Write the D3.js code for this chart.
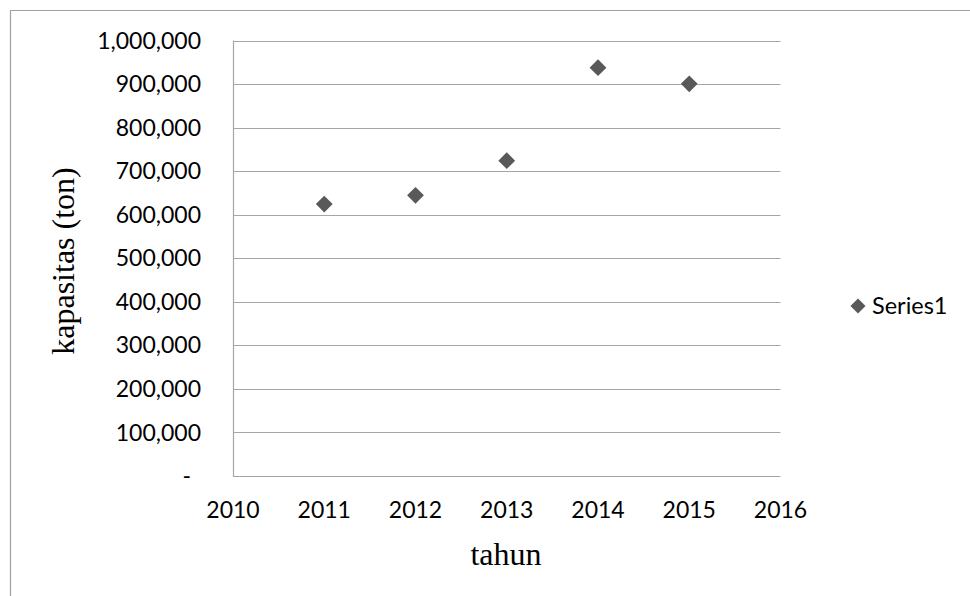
<!DOCTYPE html>
<html><head><meta charset="utf-8">
<script src="https://cdn.jsdelivr.net/npm/d3@7"></script>
<style>body{margin:0;background:#fff}svg{display:block}</style>
</head><body>
<svg id="c" width="970" height="596"></svg>
<script>
const years = [2011, 2012, 2013, 2014, 2015];
const capacity = [624500, 644500, 724000, 937500, 900500];
const yTicks = [0,100000,200000,300000,400000,500000,600000,700000,800000,900000,1000000];
const xTicks = [2010,2011,2012,2013,2014,2015,2016];
const seriesName = "Series1";

const svg = d3.select("#c");
const x = d3.scaleLinear().domain([2010,2016]).range([233,780.5]);
const y = d3.scaleLinear().domain([0,1000000]).range([476,40.5]);
const labFont = "Lato, 'Open Sans', sans-serif";
const serif = "'Liberation Serif', 'Times New Roman', serif";

// outer border
svg.append("path").attr("d","M10.5,596 V10.5 H970").attr("fill","none").attr("stroke","#a0a0a0").attr("stroke-width",1.2);

// gridlines
svg.append("g").selectAll("line").data(yTicks).join("line")
  .attr("x1",x(2010)).attr("x2",x(2016)).attr("y1",d=>Math.round(y(d))+0.5).attr("y2",d=>Math.round(y(d))+0.5)
  .attr("stroke","#a6a6a6").attr("stroke-width",1.2);
// y axis line
svg.append("line").attr("x1",x(2010)+0.5).attr("x2",x(2010)+0.5).attr("y1",y(1000000)).attr("y2",y(0)+0.5)
  .attr("stroke","#a6a6a6").attr("stroke-width",1.2);

const fmt = d3.format(",");
svg.append("g").selectAll("text").data(yTicks).join("text")
  .attr("x",201).attr("y",d=>y(d)).attr("dy","0.35em").attr("text-anchor","end")
  .attr("font-family",labFont).attr("font-size",23).attr("fill","#000")
  .text(d=>d===0?"-":fmt(d))
  .attr("dx",d=>d===0?-10:0);

svg.append("g").selectAll("text").data(xTicks).join("text")
  .attr("x",d=>x(d)).attr("y",510).attr("dy","0.35em").attr("text-anchor","middle")
  .attr("font-family",labFont).attr("font-size",23).attr("fill","#000")
  .text(d=>d);

// points
const diamond = d3.symbol().type(d3.symbolDiamond2).size(180);
svg.append("g").selectAll("path").data(years.map((yr,i)=>[yr,capacity[i]])).join("path")
  .attr("transform",d=>`translate(${x(d[0])},${y(d[1])})`)
  .attr("d",diamond).attr("fill","#595959");

// axis titles
svg.append("text").attr("x",506).attr("y",565).attr("text-anchor","middle")
  .attr("font-family",serif).attr("font-size",32).text("tahun");
svg.append("text").attr("transform","translate(74,261) rotate(-90)").attr("text-anchor","middle")
  .attr("font-family",serif).attr("font-size",32).text("kapasitas (ton)");

// legend
svg.append("path").attr("transform","translate(858,306)").attr("d",d3.symbol().type(d3.symbolDiamond2).size(145)).attr("fill","#595959");
svg.append("text").attr("x",872).attr("y",306).attr("dy","0.35em").attr("font-family",labFont).attr("font-size",23.5).text(seriesName);
</script>
</body></html>
